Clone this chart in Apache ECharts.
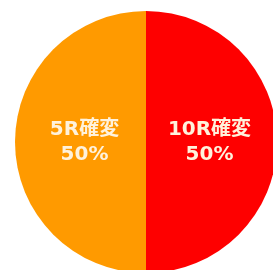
<!DOCTYPE html>
<html>
<head>
<meta charset="utf-8">
<script src="https://cdn.jsdelivr.net/npm/echarts@6/dist/echarts.min.js"></script>
<style>
html, body { margin: 0; padding: 0; background: #fff; }
#main { width: 273px; height: 270px; }
</style>
</head>
<body>
<div id="main"></div>
<script>
// 確変内訳
var categories = ['10R確変', '5R確変'];
var values = [50, 50];
var colors = ['#fe0000', '#ff9a00'];

var pieData = [];
for (var i = 0; i < categories.length; i++) {
    pieData.push({
        name: categories[i],
        value: values[i],
        itemStyle: { color: colors[i] }
    });
}

var chart = echarts.init(document.getElementById('main'));
chart.setOption({
    animation: false,
    backgroundColor: '#ffffff',
    series: [{
        type: 'pie',
        center: [146, 142],
        radius: 131,
        startAngle: 90,
        clockwise: true,
        silent: true,
        itemStyle: { borderWidth: 0 },
        label: {
            show: true,
            position: 'inside',
            formatter: '{b}\n{d}%',
            color: '#fff2dc',
            fontSize: 20,
            fontWeight: 'bold',
            fontFamily: '"DejaVu Sans", "Noto Sans CJK JP"',
            lineHeight: 25,
            align: 'center'
        },
        // ラベルを少し中心寄りに
        labelLayout: function (params) {
            return { dx: params.dataIndex === 0 ? -5 : 7 };
        },
        data: pieData
    }]
});
</script>
</body>
</html>
